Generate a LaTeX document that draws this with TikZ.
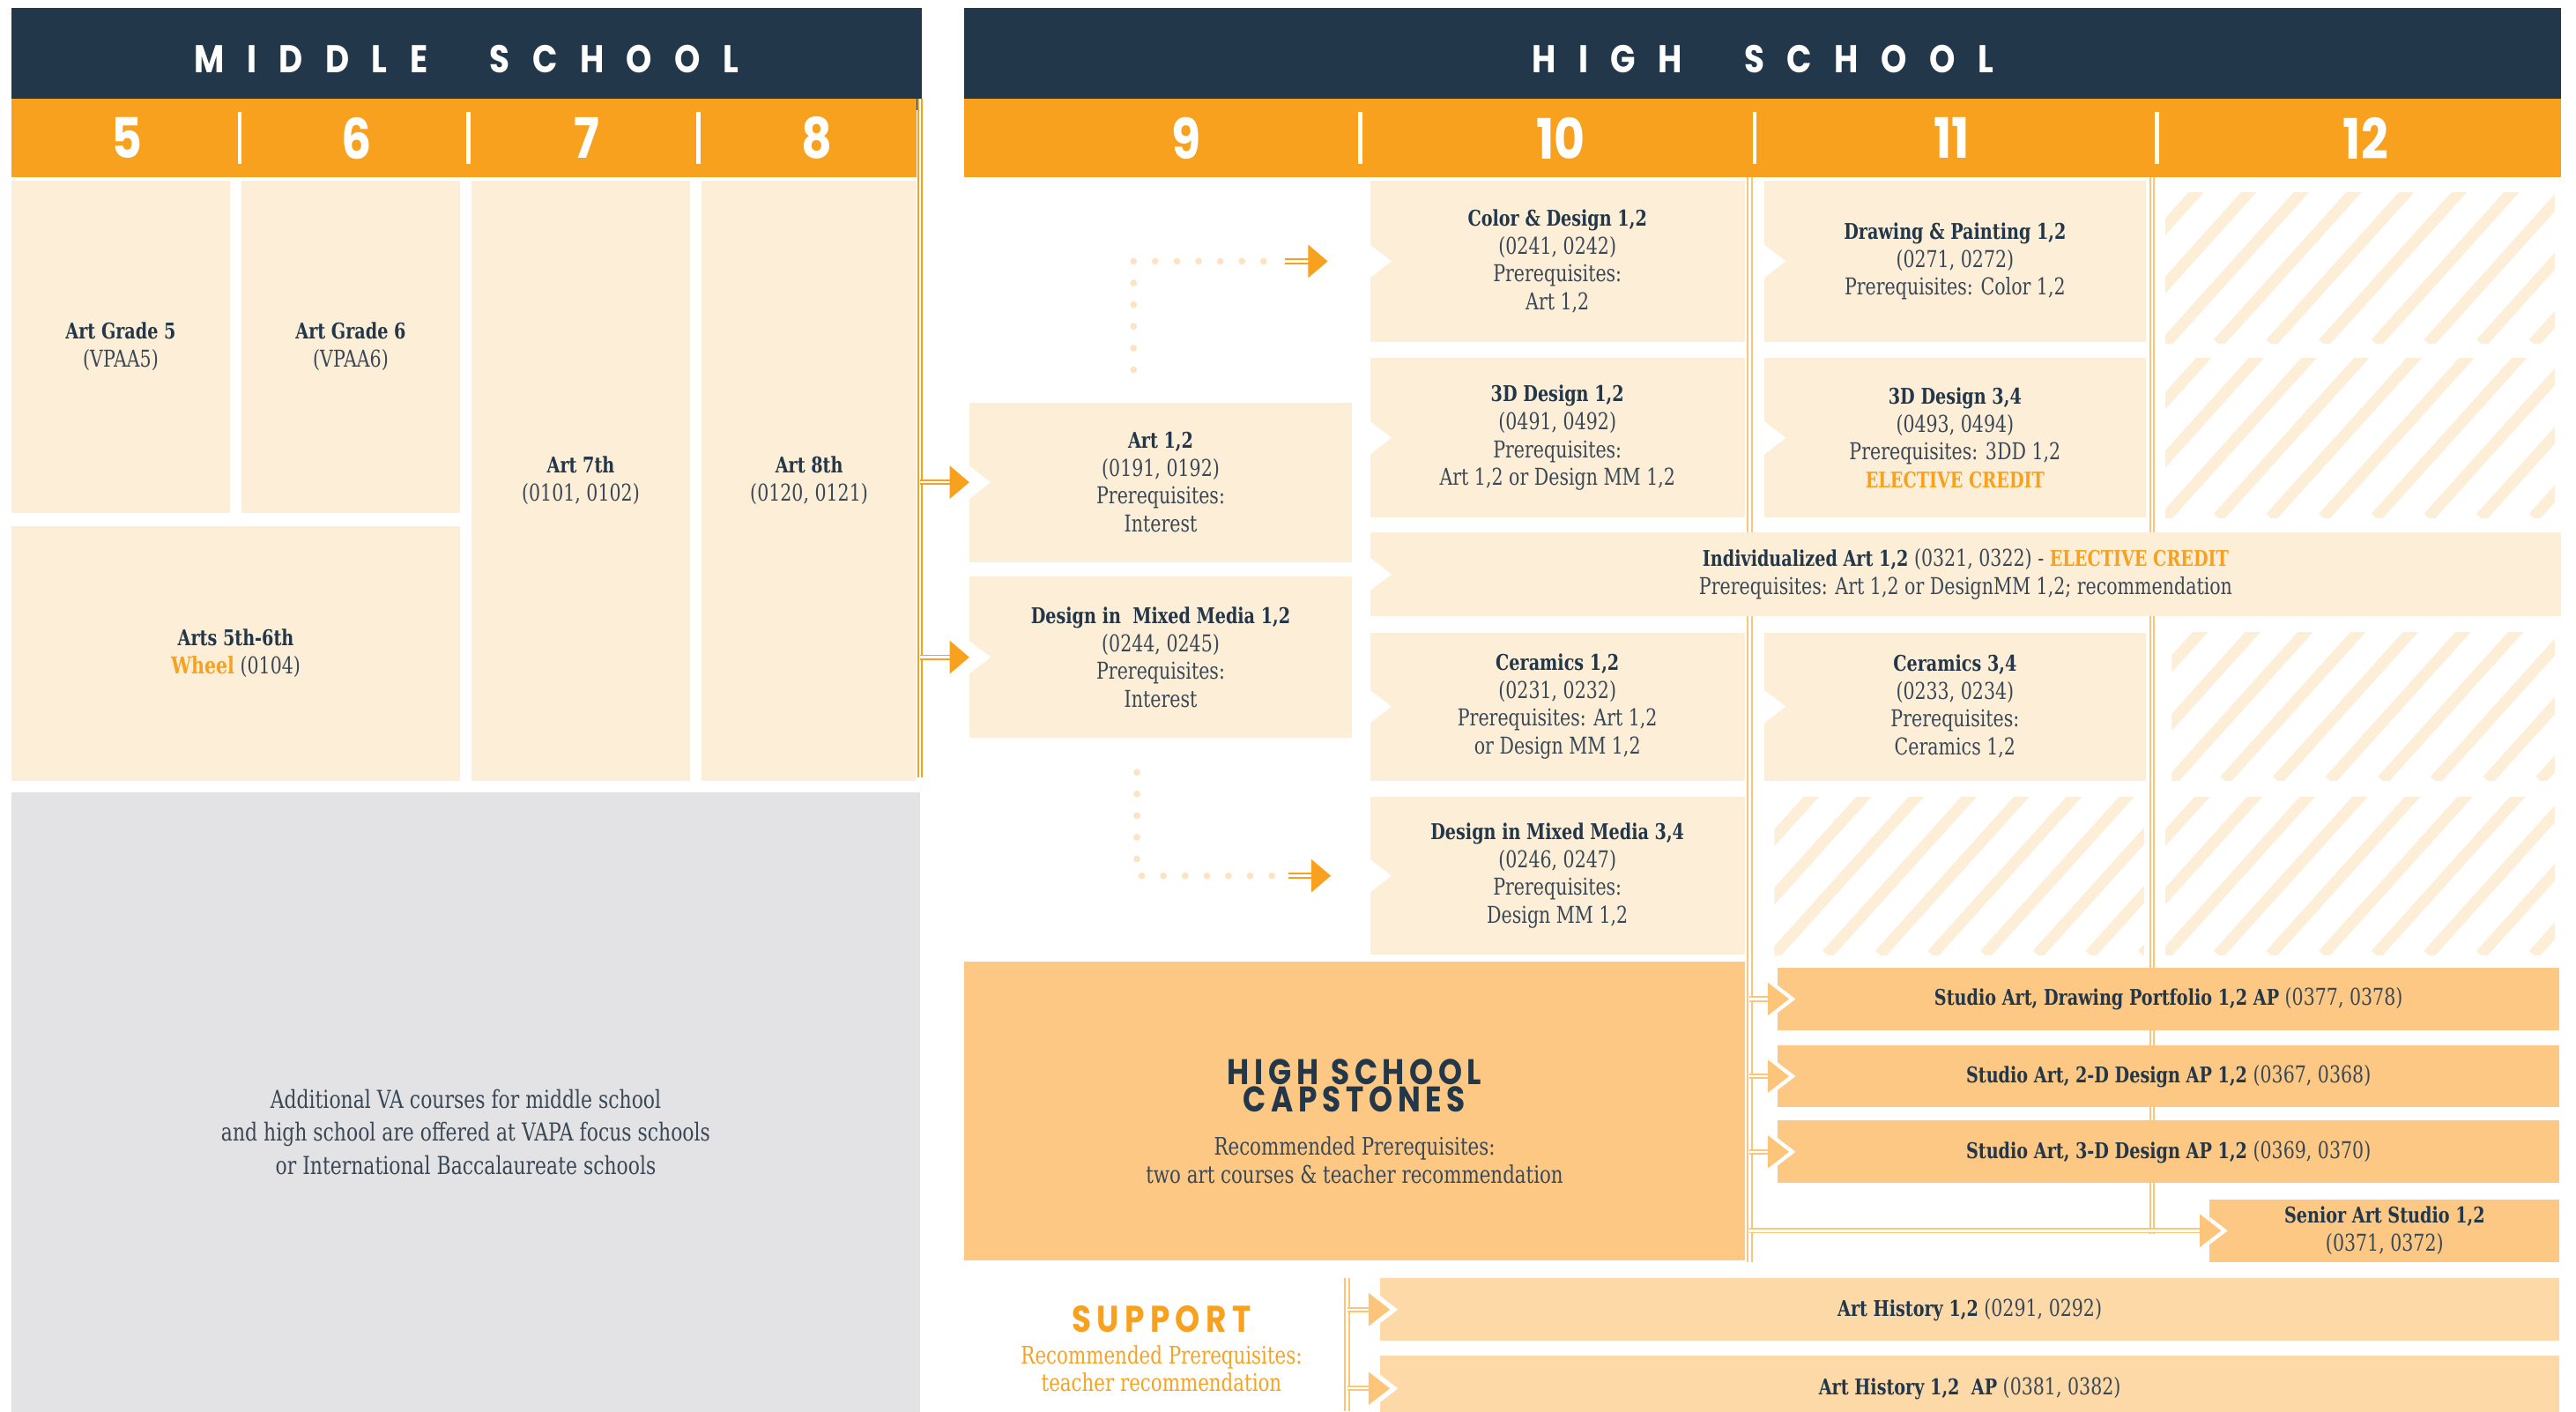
\documentclass[tikz,border=0pt]{standalone}
\usepackage{fontspec}
\setmainfont{DejaVu Serif}[FakeStretch=0.78]
\newfontfamily\hdfont{Poppins}[FakeStretch=0.85]
\usetikzlibrary{arrows.meta}

\definecolor{navy}{HTML}{22374A}
\definecolor{ink}{HTML}{3A4856}
\definecolor{org}{HTML}{F8A11F}
\definecolor{beige}{HTML}{FDEED8}
\definecolor{peach}{HTML}{FCC884}
\definecolor{sand}{HTML}{FDD9A8}
\definecolor{fog}{HTML}{E3E3E5}
\definecolor{dotc}{HTML}{FDE3C1}
\definecolor{lineo}{HTML}{FDC57A}

\newcommand\px{0.018642cm}
\newcommand\ttl[1]{{\color{navy}\fontsize{7}{9}\selectfont\bfseries #1}}
\newcommand\capsfont{\hdfont\bfseries\fontsize{11.5}{10}\selectfont\addfontfeature{LetterSpace=14}\color{navy}}
% white notch cut into the left side of a box
\newcommand\notch[2][1]{\fill[white] ([yshift=#1*5.3pt]#2.west) -- ([xshift=#1*6.9pt]#2.west) -- ([yshift=-#1*5.3pt]#2.west) -- cycle;}
% striped empty cell
\newcommand\hatch[4]{%
  \begin{scope}
    \clip (#1,#2) rectangle (#3,#4);
    \foreach \s in {-160,-128,...,260}
      \draw[stripe] ({#1+\s},#4) -- ++(135,-150);
  \end{scope}}

\begin{document}
\begin{tikzpicture}[x=0.018642cm, y=-0.018642cm,
  every node/.style={inner sep=0pt, outer sep=0pt, align=center, text=ink,
    font=\fontsize{7.5}{9}\selectfont},
  cell/.style n args={4}{at={({(#1+#3)/2},{(#2+#4)/2})},
    minimum width={(#3-#1)*\px}, minimum height={(#4-#2)*\px}},
  box/.style={fill=beige},
  capbox/.style={fill=peach},
  supbox/.style={fill=sand},
  hdbar/.style={fill=navy, text=white,
    font=\hdfont\bfseries\fontsize{12.5}{12}\selectfont\addfontfeature{LetterSpace=58}},
  gradebar/.style={fill=org},
  grade/.style={text=white, font=\hdfont\bfseries\fontsize{18}{18}\selectfont},
  sepbar/.style={white, line width=1.3pt},
  mainline/.style={draw=org, line width=0.55pt, double=white, double distance=0.7pt},
  softline/.style={draw=lineo, line width=0.55pt, double=white, double distance=0.7pt},
  arr/.style={mainline, -{Triangle[length=6.3pt, width=10.6pt]}},
  softarr/.style={softline, -{Triangle[length=6.9pt, width=10.6pt]}},
  dots/.style={dotc, line width=2.2pt, line cap=round, dash pattern=on 0pt off 7pt},
  stripe/.style={beige, line width=3.7pt}
]
\useasboundingbox (0,0) rectangle (1568,859);
\clip (0,0) rectangle (1568,859);

% headers
\node[hdbar, cell={7}{5}{561}{67}] (msh) {MIDDLE\hspace{1.6em}SCHOOL};
\node[hdbar, cell={587}{5}{1559}{67}] (hsh) {HIGH\hspace{1.6em}SCHOOL};
\node[gradebar, cell={7}{60}{558}{108}] (msg) {};
\node[gradebar, cell={587}{60}{1559}{108}] (hsg) {};
\foreach \g/\x in {5/77,6/217,7/357,8/497,9/722,10/950,11/1188,12/1440}
  \node[grade] (gr\g) at (\x,84) {\g};
\foreach \x in {146,285,425,828,1068,1313}
  \draw[sepbar] (\x,68) -- (\x,100);

% rails
\coordinate (r0t) at (560,60);   \coordinate (r0b) at (560,473);
\coordinate (r1t) at (1065,108); \coordinate (r1b) at (1065,768);
\coordinate (r2t) at (1310,108); \coordinate (r2b) at (1310,751);
\coordinate (r3t) at (820,778);  \coordinate (r3b) at (820,859);
\draw[softline] (r1t) -- (r1b);
\draw[softline] (r2t) -- (r2b);
\draw[softline] (r3t) -- (r3b);

% middle school
\node[box, cell={7}{110}{140}{312}] (a5) {\ttl{Art Grade 5}\\(VPAA5)};
\node[box, cell={147}{110}{280}{312}] (a6) {\ttl{Art Grade 6}\\(VPAA6)};
\node[box, cell={287}{110}{420}{475}] (a7) {\ttl{Art 7th}\\(0101, 0102)};
\node[box, cell={427}{110}{558}{475}] (a8) {\ttl{Art 8th}\\(0120, 0121)};
\node[box, cell={7}{320}{280}{475}] (whl) {\ttl{Arts 5th-6th}\\{\color{org}\bfseries Wheel} (0104)};
\node[fill=fog, cell={7}{482}{560}{896}, font=\fontsize{8}{10.6}\selectfont] (va)
  {Additional VA courses for middle school\\and high school are offered at VAPA focus schools\\or International Baccalaureate schools};
\draw[mainline] (r0t) -- (r0b);

% grade 9
\node[box, cell={590}{245}{823}{342}] (a12) {\ttl{Art 1,2}\\(0191, 0192)\\Prerequisites:\\Interest};
\node[box, cell={590}{351}{823}{449}] (dm12) {\ttl{Design in\ \ Mixed Media 1,2}\\(0244, 0245)\\Prerequisites:\\Interest};
\notch{a12} \notch{dm12}

% grade 10
\node[box, cell={834}{110}{1062}{208}] (cd12) {\ttl{Color \& Design 1,2}\\(0241, 0242)\\Prerequisites:\\Art 1,2};
\node[box, cell={834}{218}{1062}{315}] (td12) {\ttl{3D Design 1,2}\\(0491, 0492)\\Prerequisites:\\Art 1,2 or Design MM 1,2};
\node[box, cell={834}{324}{1559}{375}] (ind) {\ttl{Individualized Art 1,2} (0321, 0322) - {\color{org}\fontsize{7}{9}\selectfont\bfseries ELECTIVE CREDIT}\\Prerequisites: Art 1,2 or DesignMM 1,2; recommendation};
\node[box, cell={834}{385}{1062}{475}] (ce12) {\ttl{Ceramics 1,2}\\(0231, 0232)\\Prerequisites: Art 1,2\\or Design MM 1,2};
\node[box, cell={834}{485}{1062}{581}] (dm34) {\ttl{Design in Mixed Media 3,4}\\(0246, 0247)\\Prerequisites:\\Design MM 1,2};
\notch{cd12} \notch{td12} \notch{ind} \notch{ce12} \notch{dm34}

% grade 11
\node[box, cell={1074}{110}{1306}{208}] (dp12) {\ttl{Drawing \& Painting 1,2}\\(0271, 0272)\\Prerequisites: Color 1,2};
\node[box, cell={1074}{218}{1306}{315}] (td34) {\ttl{3D Design 3,4}\\(0493, 0494)\\Prerequisites: 3DD 1,2\\{\color{org}\fontsize{7}{9}\selectfont\bfseries ELECTIVE CREDIT}};
\node[box, cell={1074}{385}{1306}{475}] (ce34) {\ttl{Ceramics 3,4}\\(0233, 0234)\\Prerequisites:\\Ceramics 1,2};
\notch{dp12} \notch{td34} \notch{ce34}

% empty cells
\hatch{1080}{485}{1305}{581}
\hatch{1318}{117}{1555}{209}
\hatch{1318}{218}{1555}{315}
\hatch{1322}{385}{1555}{475}
\hatch{1318}{485}{1555}{581}

% capstones
\node[capbox, cell={587}{585}{1062}{767}, font=\fontsize{7.8}{9}\selectfont] (caps)
  {{\capsfont\rule{0pt}{15pt}HIGH\hspace{0.35em}SCHOOL}\\{\capsfont CAPSTONES}\\[5pt]Recommended Prerequisites:\\two art courses \& teacher recommendation};
\node[capbox, cell={1082}{589}{1558}{627}] (sadp) {\ttl{Studio Art, Drawing Portfolio 1,2 AP} (0377, 0378)};
\node[capbox, cell={1082}{636}{1558}{674}] (sa2d) {\ttl{Studio Art, 2-D Design AP 1,2} (0367, 0368)};
\node[capbox, cell={1082}{682}{1558}{720}] (sa3d) {\ttl{Studio Art, 3-D Design AP 1,2} (0369, 0370)};
\node[capbox, cell={1345}{730}{1558}{768}] (sas) {\ttl{Senior Art Studio 1,2}\\(0371, 0372)};
\notch[0.84]{sadp} \notch[0.84]{sa2d} \notch[0.84]{sa3d} \notch[0.84]{sas}

% support
\node[text=org, font=\fontsize{7.8}{9}\selectfont] (supp) at (707,821)
  {{\hdfont\bfseries\fontsize{12}{10}\selectfont\addfontfeature{LetterSpace=15}SUPPORT}\\[1pt]Recommended Prerequisites:\\teacher recommendation};
\node[supbox, cell={840}{778}{1558}{816}] (ah12) {\ttl{Art History 1,2} (0291, 0292)};
\node[supbox, cell={840}{825}{1558}{865}] (ahap) {\ttl{Art History 1,2\ \ AP} (0381, 0382)};
\notch[0.84]{ah12} \notch[0.84]{ahap}

% connectors
\draw[arr] (r0t |- a12.west) -- (a12.west);
\draw[arr] (r0t |- dm12.west) -- (dm12.west);
\coordinate (p1) at (690,225); \coordinate (p1e) at (782,159);
\draw[dots, shorten >=4pt] (p1) |- (p1e);
\draw[arr, shorten >=13.7pt] (p1e) -- (p1e -| cd12.west);
\coordinate (p2) at (692,470); \coordinate (p2e) at (784,533);
\draw[dots, shorten >=4pt] (p2) |- (p2e);
\draw[arr, shorten >=12.7pt] (p2e) -- (p2e -| dm34.west);
\foreach \n in {sadp,sa2d,sa3d,sas}
  \draw[softarr, shorten >=-3.7pt] (r1t |- \n.west) -- (\n.west);
\foreach \n in {ah12,ahap}
  \draw[softarr, shorten >=-3.2pt] (r3t |- \n.west) -- (\n.west);
\end{tikzpicture}
\end{document}
